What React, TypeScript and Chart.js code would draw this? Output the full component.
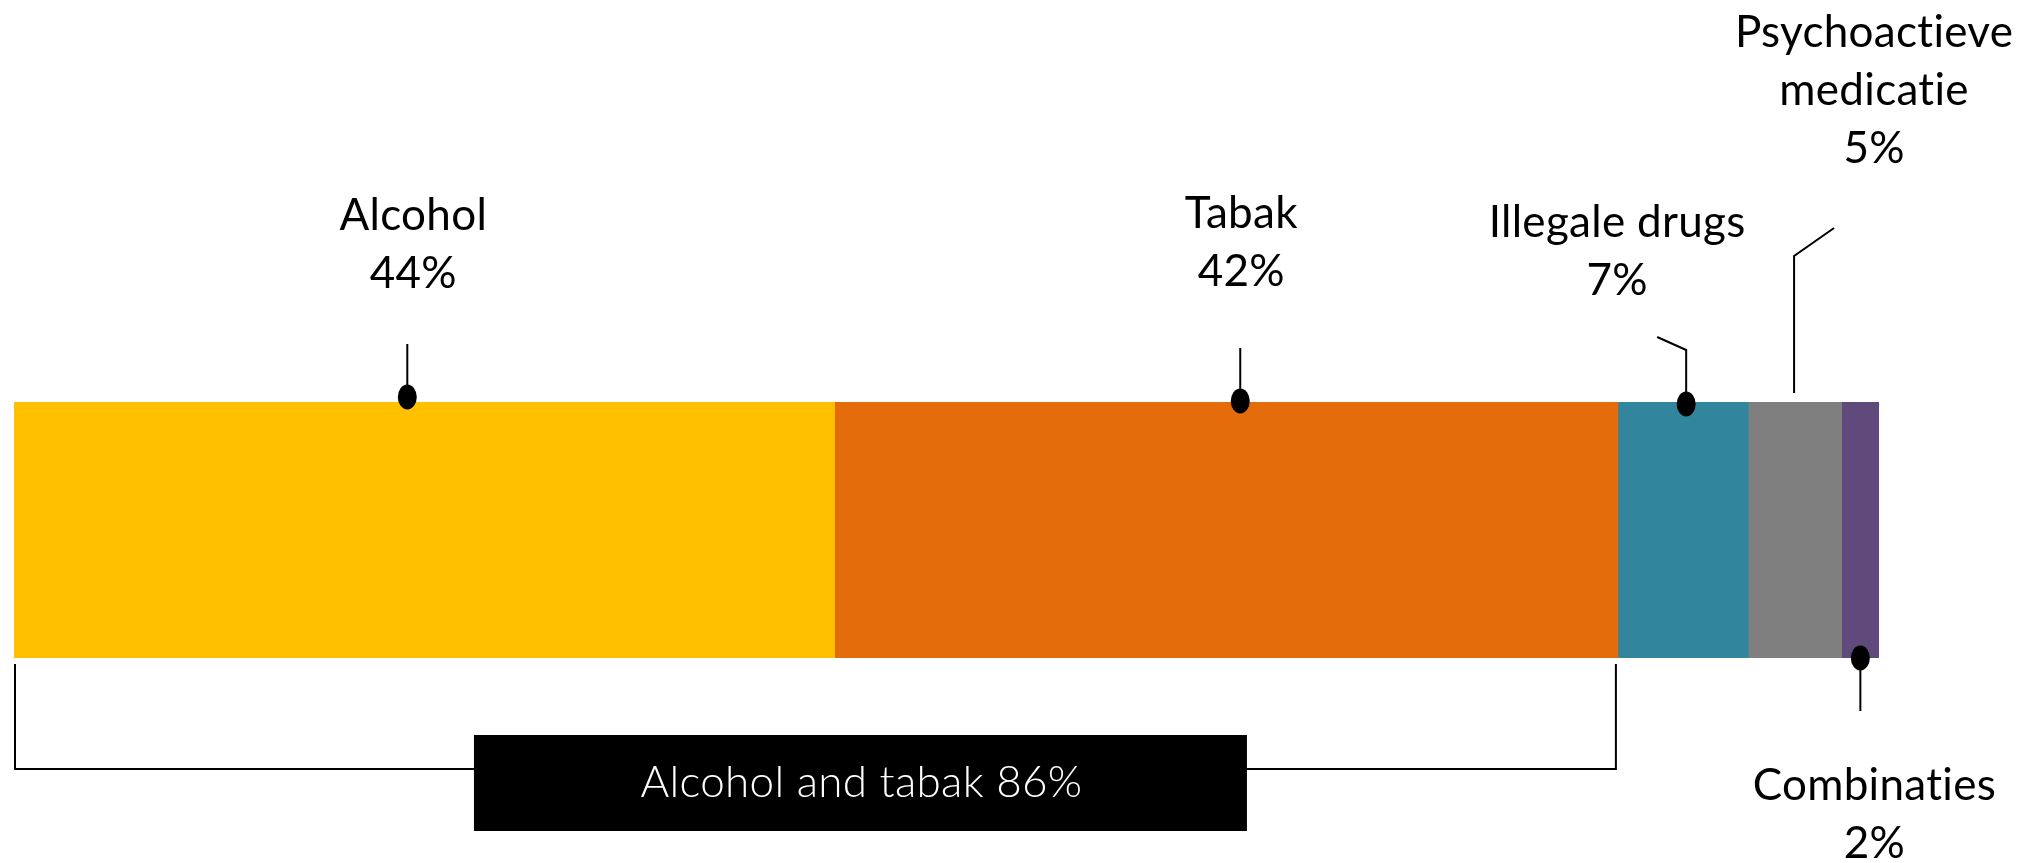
import React, { useEffect, useRef } from "react";
import { Chart, registerables } from "chart.js";

Chart.register(...registerables);

const categories = ["Alcohol", "Tabak", "Illegale drugs", "Psychoactieve medicatie", "Combinaties"];
const values = [44, 42, 7, 5, 2];
const colors = ["#FFC000", "#E46C0A", "#31859C", "#7F7F7F", "#604A7B"];
const labelLines = [
  ["Alcohol", "44%"],
  ["Tabak", "42%"],
  ["Illegale drugs", "7%"],
  ["Psychoactieve", "medicatie", "5%"],
  ["Combinaties", "2%"],
];
const combinedLabel = "Alcohol and tabak 86%";

const FONT = "Lato, 'Noto Sans', sans-serif";

const annotationPlugin = {
  id: "annotations",
  afterDatasetsDraw(chart: any) {
    const ctx = chart.ctx as CanvasRenderingContext2D & { letterSpacing?: string };
    const els = categories.map((_, i) => chart.getDatasetMeta(i).data[0] as any);
    const top = els[0].y - els[0].height / 2;
    const bottom = els[0].y + els[0].height / 2;
    const seg = (i: number) => ({
      start: Math.min(els[i].base, els[i].x),
      end: Math.max(els[i].base, els[i].x),
      center: (els[i].base + els[i].x) / 2,
    });

    const layouts = [
      { dx: -17, dotDy: -5, side: "top", path: [[0, -58]], textDx: 6, baseDy: -172 },
      { dx: 14, dotDy: -1, side: "top", path: [[0, -54]], textDx: 1, baseDy: -174 },
      { dx: 3, dotDy: 2, side: "top", path: [[0, -52], [-29, -65]], textDx: -69, baseDy: -165 },
      { dx: -1, dotDy: -9, side: "top", path: [[0, -146], [40, -174]], textDx: 80, baseDy: -355, noDot: true },
      { dx: 0, dotDy: 0, side: "bottom", path: [[0, 53]], textDx: 14, baseDy: 142 },
    ];

    ctx.save();
    ctx.strokeStyle = "#000";
    ctx.fillStyle = "#000";
    ctx.lineWidth = 2;
    layouts.forEach((L, i) => {
      const s = seg(i);
      const ax = s.center + L.dx;
      const edge = L.side === "top" ? top : bottom;
      const ay = edge + L.dotDy;
      ctx.beginPath();
      ctx.moveTo(ax, ay);
      L.path.forEach(([px, py]) => ctx.lineTo(ax + px, edge + py));
      ctx.stroke();
      if (!L.noDot) {
        ctx.beginPath();
        ctx.ellipse(ax, ay, 9.5, 12.5, 0, 0, Math.PI * 2);
        ctx.fill();
      }
      ctx.font = `400 44px ${FONT}`;
      ctx.letterSpacing = "0.3px";
      ctx.textAlign = "center";
      ctx.textBaseline = "alphabetic";
      labelLines[i].forEach((line, k) => {
        ctx.fillText(line, ax + L.textDx, edge + L.baseDy + k * 58);
      });
    });

    const bx0 = seg(0).start + 1;
    const bx1 = seg(1).end - 2;
    const by0 = bottom + 6;
    const by1 = bottom + 111;
    ctx.beginPath();
    ctx.moveTo(bx0, by0);
    ctx.lineTo(bx0, by1);
    ctx.lineTo(bx1, by1);
    ctx.lineTo(bx1, by0);
    ctx.stroke();

    const boxCx = (bx0 + bx1) / 2 + 45;
    const boxW = 773;
    const boxTop = bottom + 77;
    const boxH = 96;
    ctx.fillStyle = "#000";
    ctx.fillRect(boxCx - boxW / 2, boxTop, boxW, boxH);
    ctx.fillStyle = "#fff";
    ctx.font = `300 44px ${FONT}`;
    ctx.letterSpacing = "0.3px";
    ctx.textAlign = "center";
    ctx.fillText(combinedLabel, boxCx + 1, boxTop + 62);
    ctx.restore();
  },
};

export default function App() {
  const ref = useRef<HTMLCanvasElement | null>(null);
  useEffect(() => {
    if (!ref.current) return;
    const chart = new Chart(ref.current, {
      type: "bar",
      data: {
        labels: [""],
        datasets: categories.map((c, i) => ({
          label: c,
          data: [values[i]],
          backgroundColor: colors[i],
          borderWidth: 0,
          barPercentage: 1,
          categoryPercentage: 1,
        })),
      },
      options: {
        indexAxis: "y",
        animation: false,
        responsive: false,
        maintainAspectRatio: false,
        devicePixelRatio: 1,
        layout: { padding: { left: 14, right: 140, top: 402, bottom: 205 } },
        scales: {
          x: { stacked: true, min: 0, max: 100, display: false },
          y: { stacked: true, display: false },
        },
        plugins: { legend: { display: false }, tooltip: { enabled: false } },
      },
      plugins: [annotationPlugin],
    });
    return () => chart.destroy();
  }, []);
  return (
    <div style={{ position: "absolute", left: 0, top: 0, width: 2019, height: 863, background: "#fff" }}>
      <canvas ref={ref} width={2019} height={863} style={{ width: 2019, height: 863 }} />
    </div>
  );
}
